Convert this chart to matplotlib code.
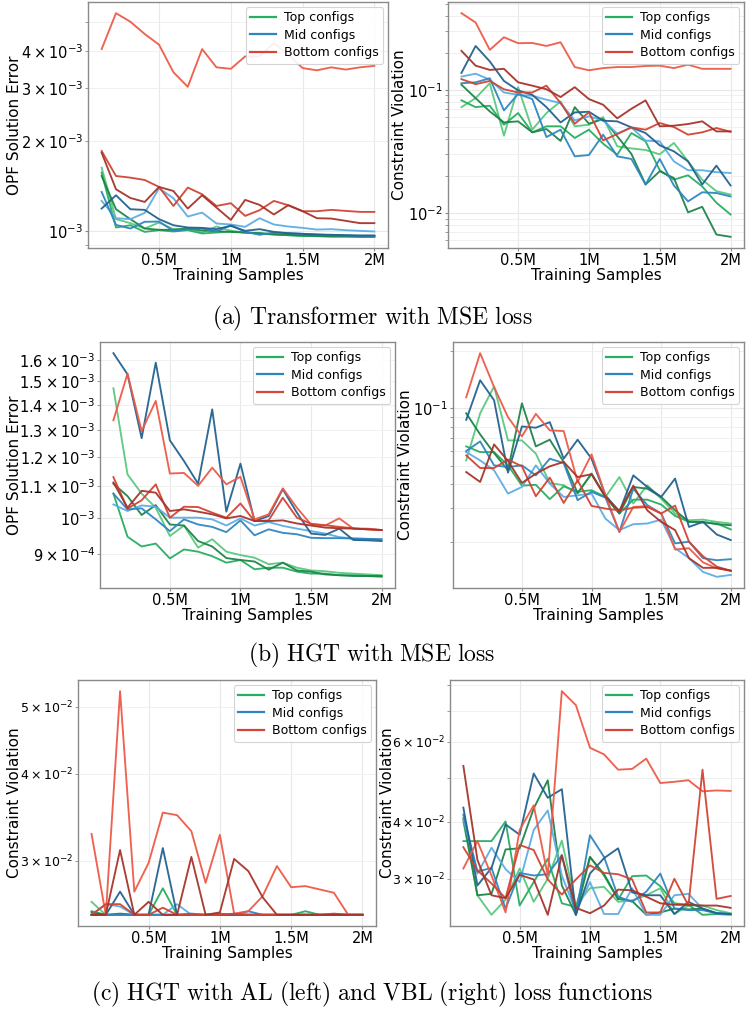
import matplotlib
matplotlib.use("Agg")
import matplotlib.pyplot as plt
from matplotlib.lines import Line2D
import numpy as np

# training set sizes (0.1M .. 2M)
samples = [100000 * i for i in range(1, 21)]
xticks = [500000, 1000000, 1500000, 2000000]
xtick_labels = ["0.5M", "1M", "1.5M", "2M"]
group_names = ["Top configs", "Mid configs", "Bottom configs"]

# (a) Transformer + MSE, OPF error (units of 1e-3), lines: light, mid, dark
a_err_green = [
    [1.626, 1.094, 1.061, 1.018, 1.066, 1.013, 1.013, 0.987, 1.034, 1.0, 0.987, 0.980, 0.972, 0.967, 0.962, 0.960, 0.957, 0.957, 0.957, 0.957],
    [1.565, 1.026, 1.044, 0.992, 1.005, 0.995, 1.005, 0.980, 0.987, 0.995, 0.987, 0.980, 0.972, 0.967, 0.962, 0.960, 0.957, 0.957, 0.955, 0.955],
    [1.525, 1.181, 1.094, 1.018, 1.008, 1.008, 1.018, 1.003, 0.997, 0.992, 0.987, 0.982, 0.975, 0.970, 0.965, 0.962, 0.960, 0.960, 0.957, 0.957],
]
a_err_blue = [
    [1.259, 1.102, 1.094, 1.148, 1.387, 1.285, 1.116, 1.151, 1.058, 1.050, 1.031, 1.102, 1.050, 1.034, 1.023, 1.010, 1.013, 1.005, 1.000, 0.995],
    [1.349, 1.047, 1.018, 1.072, 1.074, 1.0, 1.013, 1.018, 0.995, 1.044, 0.992, 0.970, 0.987, 0.982, 0.977, 0.972, 0.967, 0.965, 0.962, 0.962],
    [1.187, 1.315, 1.181, 1.175, 1.094, 1.044, 1.026, 1.023, 1.013, 1.039, 1.0, 1.013, 0.992, 0.982, 0.977, 0.972, 0.970, 0.967, 0.965, 0.965],
]
a_err_red = [
    [4.05, 5.34, 5.0, 4.55, 4.19, 3.39, 3.03, 4.05, 3.52, 3.48, 3.83, 3.83, 4.24, 3.88, 3.50, 3.44, 3.52, 3.46, 3.52, 3.56],
    [1.848, 1.525, 1.506, 1.479, 1.402, 1.211, 1.395, 1.325, 1.211, 1.237, 1.122, 1.172, 1.259, 1.218, 1.163, 1.163, 1.175, 1.166, 1.157, 1.157],
    [1.825, 1.377, 1.288, 1.249, 1.402, 1.359, 1.187, 1.315, 1.196, 1.088, 1.269, 1.221, 1.134, 1.218, 1.163, 1.102, 1.099, 1.080, 1.061, 1.061],
]

# (a) constraint violation
a_cv_green = [
    [0.0723, 0.0855, 0.113, 0.0424, 0.105, 0.0474, 0.0647, 0.0804, 0.0505, 0.0520, 0.0600, 0.0347, 0.0334, 0.0324, 0.0299, 0.0370, 0.0262, 0.0186, 0.0150, 0.0141],
    [0.0820, 0.0723, 0.0742, 0.0520, 0.0647, 0.0451, 0.0505, 0.0505, 0.0406, 0.0474, 0.0365, 0.0297, 0.0445, 0.0381, 0.0222, 0.0186, 0.0202, 0.0164, 0.0121, 0.0097],
    [0.110, 0.0855, 0.0667, 0.0543, 0.0554, 0.0451, 0.0480, 0.0384, 0.0723, 0.0530, 0.0578, 0.0419, 0.0301, 0.0170, 0.0218, 0.0192, 0.0101, 0.0112, 0.00667, 0.00639],
]
a_cv_blue = [
    [0.128, 0.135, 0.121, 0.0951, 0.0910, 0.0894, 0.0830, 0.0780, 0.0564, 0.0608, 0.0564, 0.0440, 0.0495, 0.0386, 0.0381, 0.0262, 0.0222, 0.0222, 0.0214, 0.0211],
    [0.113, 0.115, 0.124, 0.0680, 0.0923, 0.0840, 0.0413, 0.0474, 0.0288, 0.0295, 0.0432, 0.0288, 0.0274, 0.0170, 0.0274, 0.0167, 0.0124, 0.0147, 0.0145, 0.0136],
    [0.137, 0.227, 0.170, 0.118, 0.0989, 0.0910, 0.0723, 0.0543, 0.0655, 0.0663, 0.0561, 0.0554, 0.0495, 0.0445, 0.0354, 0.0316, 0.0262, 0.0170, 0.0242, 0.0167],
]
a_cv_red = [
    [0.419, 0.352, 0.211, 0.267, 0.239, 0.240, 0.227, 0.243, 0.153, 0.144, 0.150, 0.153, 0.153, 0.156, 0.157, 0.150, 0.160, 0.148, 0.148, 0.148],
    [0.122, 0.111, 0.118, 0.101, 0.0951, 0.0951, 0.108, 0.0780, 0.0530, 0.0655, 0.0388, 0.0437, 0.0495, 0.0474, 0.0537, 0.0498, 0.0432, 0.0451, 0.0489, 0.0456],
    [0.207, 0.157, 0.145, 0.148, 0.115, 0.108, 0.101, 0.0873, 0.105, 0.0840, 0.0756, 0.0586, 0.0701, 0.0820, 0.0505, 0.0511, 0.0527, 0.0554, 0.0459, 0.0459],
]

# (b) HGT + MSE, OPF error (units of 1e-3)
b_err_green = [
    [1.470, 1.139, 1.076, 1.032, 0.949, 0.979, 0.917, 0.940, 0.906, 0.897, 0.890, 0.873, 0.877, 0.864, 0.857, 0.855, 0.851, 0.849, 0.847, 0.845],
    [1.076, 0.947, 0.920, 0.928, 0.888, 0.912, 0.906, 0.894, 0.877, 0.884, 0.860, 0.864, 0.864, 0.854, 0.849, 0.849, 0.845, 0.845, 0.843, 0.841],
    [1.108, 1.068, 1.010, 1.040, 0.982, 0.979, 0.935, 0.920, 0.889, 0.884, 0.880, 0.859, 0.877, 0.857, 0.854, 0.847, 0.845, 0.843, 0.843, 0.843],
]
b_err_blue = [
    [1.042, 1.022, 1.039, 1.035, 1.002, 1.002, 1.002, 0.997, 0.979, 1.0, 0.979, 0.989, 0.978, 0.970, 0.963, 0.956, 0.946, 0.942, 0.941, 0.939],
    [1.076, 1.027, 1.030, 0.997, 0.963, 0.997, 0.982, 0.975, 0.960, 0.994, 0.951, 0.968, 0.958, 0.954, 0.944, 0.943, 0.943, 0.942, 0.941, 0.940],
    [1.631, 1.532, 1.268, 1.586, 1.260, 1.185, 1.108, 1.381, 1.020, 1.176, 0.992, 1.007, 1.090, 1.017, 0.956, 0.952, 0.970, 0.938, 0.937, 0.935],
]
b_err_red = [
    [1.337, 1.535, 1.295, 1.416, 1.142, 1.144, 1.101, 1.162, 1.106, 1.131, 0.997, 1.012, 1.093, 1.032, 0.982, 0.979, 1.0, 0.970, 0.970, 0.966],
    [1.130, 1.029, 1.055, 1.106, 1.002, 1.035, 1.034, 1.017, 1.002, 1.045, 0.992, 0.994, 1.063, 1.002, 0.984, 0.980, 0.975, 0.971, 0.968, 0.966],
    [1.112, 1.032, 1.085, 1.079, 1.022, 1.027, 1.020, 1.012, 1.0, 1.007, 0.992, 0.992, 0.994, 0.985, 0.979, 0.973, 0.971, 0.970, 0.968, 0.966],
]

# (b) constraint violation
b_cv_green = [
    [0.0533, 0.0940, 0.130, 0.0678, 0.0678, 0.0578, 0.0406, 0.0395, 0.0357, 0.0454, 0.0343, 0.0436, 0.0317, 0.0395, 0.0336, 0.0281, 0.0259, 0.0261, 0.0254, 0.0249],
    [0.0631, 0.0589, 0.0589, 0.0502, 0.0393, 0.0397, 0.0334, 0.0390, 0.0365, 0.0372, 0.0343, 0.0281, 0.0332, 0.0332, 0.0313, 0.0273, 0.0254, 0.0252, 0.0249, 0.0232],
    [0.0940, 0.0729, 0.0582, 0.0473, 0.106, 0.0631, 0.0684, 0.0523, 0.0360, 0.0454, 0.0343, 0.0281, 0.0387, 0.0379, 0.0343, 0.0292, 0.0254, 0.0254, 0.0247, 0.0244],
]
b_cv_blue = [
    [0.0589, 0.0533, 0.0473, 0.0357, 0.0387, 0.0502, 0.0403, 0.0343, 0.0350, 0.0357, 0.0264, 0.0230, 0.0247, 0.0249, 0.0261, 0.0185, 0.0164, 0.0139, 0.0131, 0.0134],
    [0.0597, 0.0670, 0.0502, 0.0492, 0.0502, 0.0445, 0.0544, 0.0516, 0.0330, 0.0365, 0.0340, 0.0225, 0.0379, 0.0311, 0.0281, 0.0196, 0.0200, 0.0164, 0.0160, 0.0162],
    [0.0869, 0.140, 0.110, 0.0460, 0.0802, 0.0790, 0.0845, 0.0544, 0.0684, 0.0544, 0.0350, 0.0287, 0.0445, 0.0387, 0.0343, 0.0428, 0.0239, 0.0254, 0.0218, 0.0204],
]
b_cv_red = [
    [0.114, 0.194, 0.129, 0.0897, 0.0712, 0.0934, 0.0765, 0.0759, 0.0411, 0.0573, 0.0350, 0.0225, 0.0304, 0.0307, 0.0281, 0.0182, 0.0185, 0.0156, 0.0145, 0.0141],
    [0.0566, 0.0486, 0.0486, 0.0538, 0.0496, 0.0346, 0.0433, 0.0319, 0.0419, 0.0308, 0.0298, 0.0292, 0.0301, 0.0304, 0.0281, 0.0309, 0.0200, 0.0168, 0.0148, 0.0141],
    [0.0463, 0.0411, 0.0646, 0.0529, 0.0406, 0.0454, 0.0496, 0.0523, 0.0436, 0.0451, 0.0343, 0.0290, 0.0393, 0.0292, 0.0254, 0.0230, 0.0164, 0.0146, 0.0146, 0.0141],
]

# (c) HGT + AL loss, constraint violation
c_al_green = [
    [0.0262, 0.0251, 0.0251, 0.0251, 0.0251, 0.0251, 0.0251, 0.0251, 0.0251, 0.0251, 0.0251, 0.0251, 0.0251, 0.0251, 0.0251, 0.0251, 0.0251, 0.0251, 0.0251, 0.0251],
    [0.0254, 0.0251, 0.0251, 0.0251, 0.0251, 0.0274, 0.0251, 0.0251, 0.0251, 0.0251, 0.0251, 0.0251, 0.0251, 0.0251, 0.0251, 0.0254, 0.0251, 0.0251, 0.0251, 0.0251],
    [0.0253, 0.0251, 0.0252, 0.0251, 0.0251, 0.0251, 0.0251, 0.0251, 0.0251, 0.0251, 0.0251, 0.0251, 0.0251, 0.0251, 0.0251, 0.0251, 0.0251, 0.0251, 0.0251, 0.0251],
]
c_al_blue = [
    [0.0251, 0.0260, 0.0258, 0.0251, 0.0251, 0.0251, 0.0260, 0.0251, 0.0251, 0.0251, 0.0251, 0.0251, 0.0251, 0.0251, 0.0251, 0.0251, 0.0251, 0.0251, 0.0251, 0.0251],
    [0.0251, 0.0251, 0.0251, 0.0251, 0.0251, 0.0251, 0.0251, 0.0252, 0.0251, 0.0252, 0.0251, 0.0254, 0.0251, 0.0251, 0.0251, 0.0251, 0.0251, 0.0251, 0.0251, 0.0251],
    [0.0251, 0.0251, 0.0271, 0.0251, 0.0251, 0.0313, 0.0251, 0.0251, 0.0251, 0.0251, 0.0251, 0.0251, 0.0251, 0.0251, 0.0251, 0.0251, 0.0251, 0.0251, 0.0251, 0.0251],
]
c_al_red = [
    [0.0328, 0.0251, 0.0526, 0.0271, 0.0298, 0.0352, 0.0349, 0.0331, 0.0279, 0.0327, 0.0252, 0.0254, 0.0267, 0.0295, 0.0275, 0.0276, 0.0273, 0.0270, 0.0251, 0.0251],
    [0.0251, 0.0260, 0.0260, 0.0251, 0.0251, 0.0257, 0.0251, 0.0251, 0.0251, 0.0251, 0.0252, 0.0251, 0.0251, 0.0251, 0.0251, 0.0251, 0.0251, 0.0252, 0.0251, 0.0251],
    [0.0251, 0.0251, 0.0311, 0.0251, 0.0262, 0.0251, 0.0251, 0.0304, 0.0251, 0.0253, 0.0302, 0.0290, 0.0266, 0.0251, 0.0251, 0.0251, 0.0251, 0.0251, 0.0251, 0.0251],
]

# (c) HGT + VBL loss, constraint violation
c_vbl_green = [
    [0.0401, 0.0276, 0.0250, 0.0270, 0.0316, 0.0267, 0.0300, 0.0364, 0.0262, 0.0286, 0.0288, 0.0267, 0.0269, 0.0276, 0.0286, 0.0251, 0.0262, 0.0262, 0.0256, 0.0252],
    [0.0363, 0.0363, 0.0363, 0.0401, 0.0262, 0.0295, 0.0332, 0.0265, 0.0260, 0.0335, 0.0305, 0.0270, 0.0304, 0.0305, 0.0289, 0.0265, 0.0263, 0.0250, 0.0251, 0.0250],
    [0.0407, 0.0276, 0.0278, 0.0348, 0.0350, 0.0428, 0.0494, 0.0290, 0.0250, 0.0335, 0.0307, 0.0271, 0.0268, 0.0250, 0.0253, 0.0258, 0.0257, 0.0258, 0.0252, 0.0251],
]
c_vbl_blue = [
    [0.0407, 0.0308, 0.0351, 0.0315, 0.0295, 0.0384, 0.0424, 0.0305, 0.0254, 0.0295, 0.0251, 0.0251, 0.0286, 0.0250, 0.0250, 0.0276, 0.0278, 0.0258, 0.0252, 0.0251],
    [0.0415, 0.0311, 0.0317, 0.0258, 0.0309, 0.0305, 0.0307, 0.0338, 0.0250, 0.0374, 0.0335, 0.0274, 0.0267, 0.0281, 0.0308, 0.0258, 0.0256, 0.0256, 0.0252, 0.0251],
    [0.0430, 0.0290, 0.0317, 0.0395, 0.0375, 0.0511, 0.0452, 0.0472, 0.0250, 0.0308, 0.0333, 0.0350, 0.0280, 0.0276, 0.0276, 0.0251, 0.0267, 0.0258, 0.0252, 0.0251],
]
c_vbl_red = [
    [0.0316, 0.0363, 0.0305, 0.0253, 0.0384, 0.0435, 0.0305, 0.0775, 0.0722, 0.0582, 0.0563, 0.0521, 0.0523, 0.0551, 0.0487, 0.0490, 0.0494, 0.0467, 0.0469, 0.0468],
    [0.0352, 0.0313, 0.0293, 0.0272, 0.0356, 0.0347, 0.0299, 0.0277, 0.0299, 0.0321, 0.0309, 0.0307, 0.0299, 0.0253, 0.0253, 0.0300, 0.0262, 0.0521, 0.0271, 0.0275],
    [0.0531, 0.0330, 0.0276, 0.0272, 0.0306, 0.0299, 0.0250, 0.0338, 0.0259, 0.0252, 0.0262, 0.0284, 0.0283, 0.0274, 0.0265, 0.0263, 0.0263, 0.0262, 0.0262, 0.0259],
]

greens = ["#58c97e", "#27ae60", "#1e8449"]
blues = ["#5dade2", "#2e86c1", "#24628f"]
reds = ["#ee5a48", "#d24434", "#a5342a"]
legend_colors = ["#27ae60", "#2e86c1", "#d6453a"]

plt.rcParams["font.family"] = "DejaVu Sans"
plt.rcParams["mathtext.fontset"] = "dejavusans"

fig = plt.figure(figsize=(7.46, 10.11), dpi=100)
W, H = 746.0, 1011.0


def make_ax(x0, x1, y0, y1):
    return fig.add_axes([x0 / W, 1 - y1 / H, (x1 - x0) / W, (y1 - y0) / H])


def draw(ax, green, blue, red, scale=1.0, ylabel="Constraint Violation",
         ylab_x=-0.14, ysize=10.5, ypad=1.5):
    for lines, cols in ((green, greens), (blue, blues), (red, reds)):
        for vals, c in zip(lines, cols):
            ax.plot(samples, np.array(vals) * scale, color=c, lw=1.35, alpha=0.95)
    ax.set_yscale("log")
    ax.set_xticks(xticks)
    ax.set_xticklabels(xtick_labels)
    ax.grid(True, which="major", color="#e8e8e8", lw=0.8)
    ax.grid(True, which="minor", axis="y", color="#f0f0f0", lw=0.7)
    ax.set_axisbelow(True)
    for s in ax.spines.values():
        s.set_color("#8a8a8a")
        s.set_linewidth(1.0)
    ax.tick_params(which="both", colors="#8a8a8a", labelcolor="black", length=2)
    ax.tick_params(axis="x", labelsize=10.5, pad=1.5)
    ax.tick_params(axis="y", which="both", labelsize=ysize, pad=ypad)
    ax.set_ylabel(ylabel, fontsize=11)
    ax.yaxis.set_label_coords(ylab_x, 0.5)
    ax.set_xlabel("Training Samples", fontsize=11, labelpad=0)
    handles = [Line2D([0], [0], color=c, lw=1.6) for c in legend_colors]
    leg = ax.legend(handles, group_names, loc="upper right", fontsize=9,
                    framealpha=0.9, edgecolor="#d0d0d0", fancybox=True,
                    borderaxespad=0.4, borderpad=0.35, handlelength=2.1,
                    handletextpad=0.6, labelspacing=0.35)
    leg.get_frame().set_linewidth(0.8)


ax = make_ax(88, 388, 2, 248)
draw(ax, a_err_green, a_err_blue, a_err_red, scale=1e-3, ylabel="OPF Solution Error",
     ylab_x=-0.22)
ax = make_ax(448, 744, 2, 248)
draw(ax, a_cv_green, a_cv_blue, a_cv_red, ylab_x=-0.139)

ax = make_ax(100, 395, 342, 588)
draw(ax, b_err_green, b_err_blue, b_err_red, scale=1e-3, ylabel="OPF Solution Error",
     ylab_x=-0.264)
ax = make_ax(453, 744, 342, 588)
draw(ax, b_cv_green, b_cv_blue, b_cv_red, ylab_x=-0.137)

ax = make_ax(78, 376, 680, 926)
draw(ax, c_al_green, c_al_blue, c_al_red, ylab_x=-0.188, ysize=9)
ax = make_ax(450, 744, 680, 926)
draw(ax, c_vbl_green, c_vbl_blue, c_vbl_red, ylab_x=-0.187, ysize=9)

cap_kw = dict(ha="center", va="center", fontsize=17, math_fontfamily="cm")
fig.text(372 / W, 1 - 318 / H, r"$\mathrm{(a)\ Transformer\ with\ MSE\ loss}$", **cap_kw)
fig.text(372 / W, 1 - 655 / H, r"$\mathrm{(b)\ HGT\ with\ MSE\ loss}$", **cap_kw)
fig.text(372 / W, 1 - 994 / H,
         r"$\mathrm{(c)\ HGT\ with\ AL\ (left)\ and\ VBL\ (right)\ loss\ functions}$", **cap_kw)

fig.savefig("out.png", dpi=100)
